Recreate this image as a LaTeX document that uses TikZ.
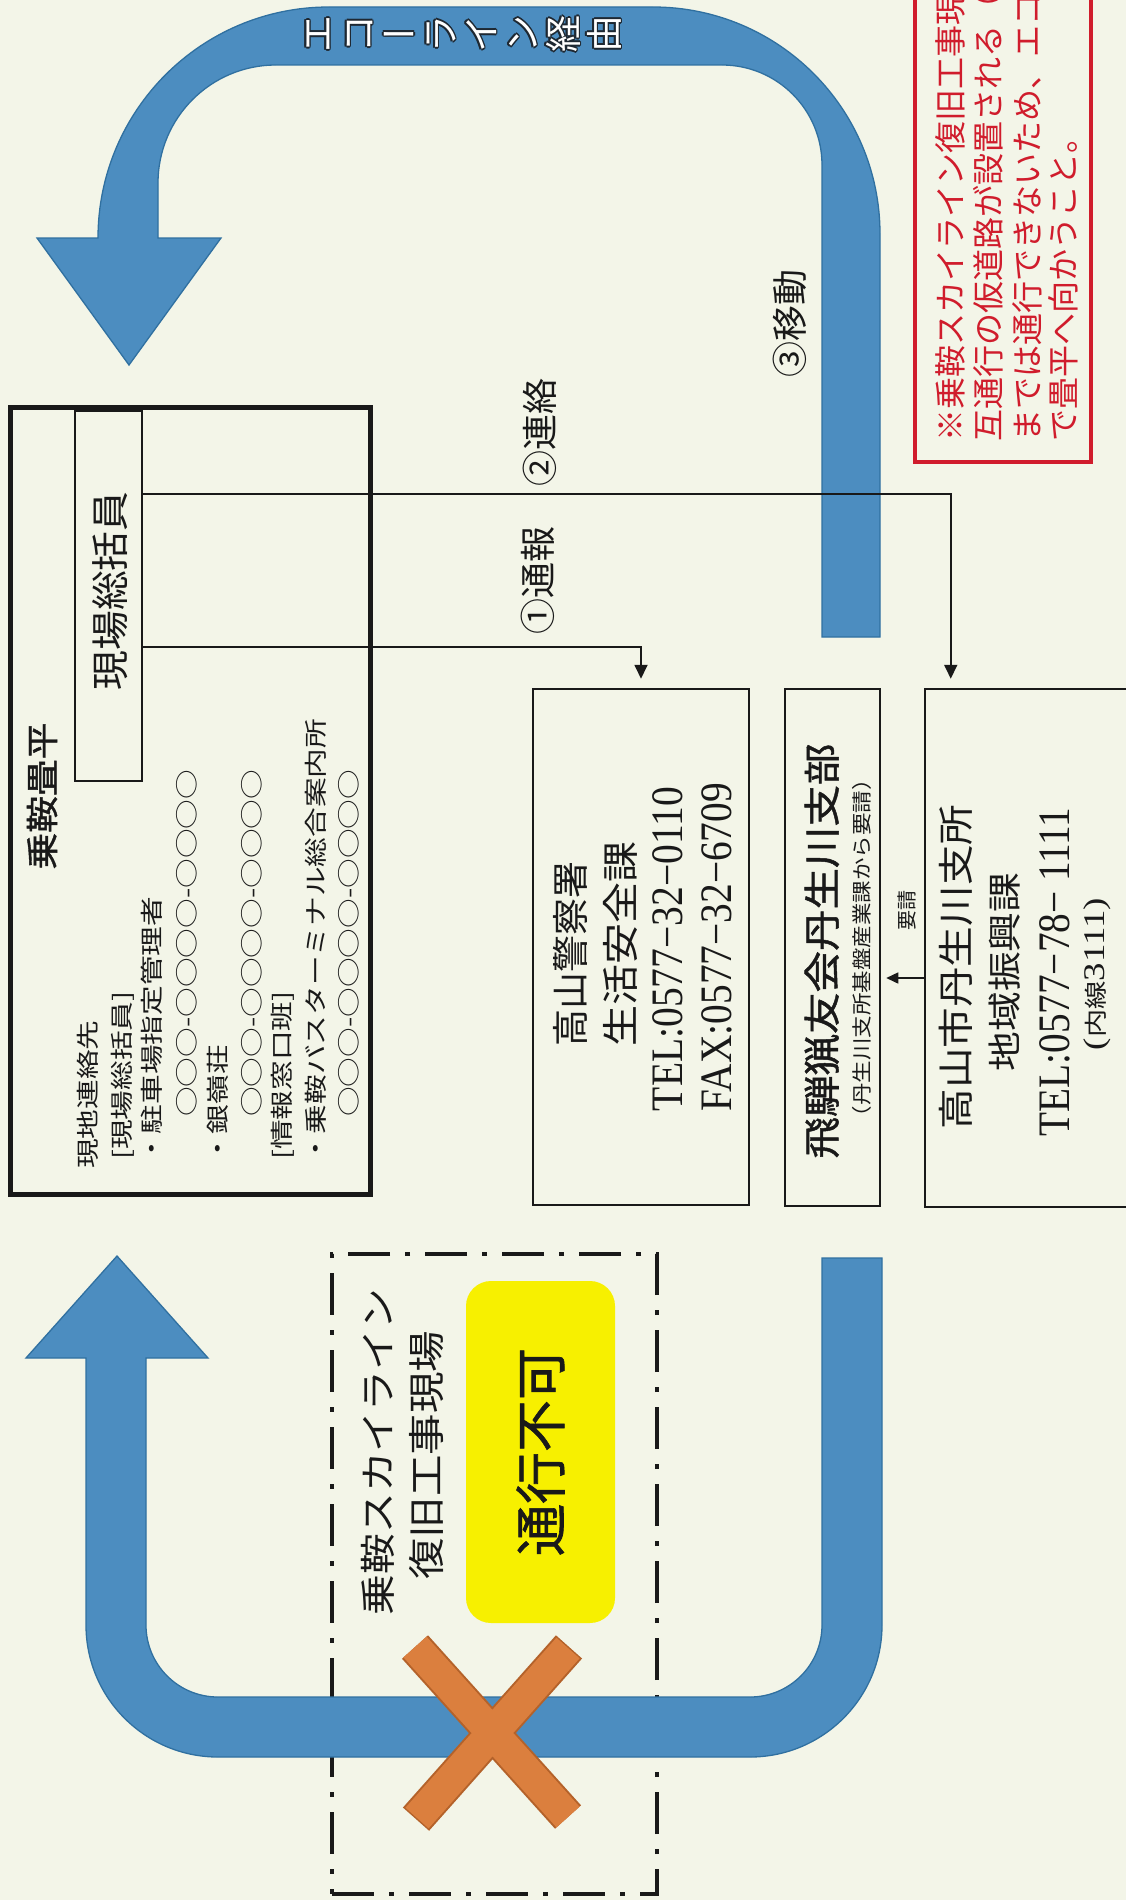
\documentclass[tikz,border=0pt]{standalone}
\usepackage{fontspec}
\usepackage{graphicx}
\usetikzlibrary{arrows.meta,calc}
\setmainfont{Liberation Serif}
\newfontfamily\jp{Noto Sans CJK JP}
\newfontfamily\jpb{Noto Sans CJK JP}[FakeBold=1.2]
\definecolor{bgc}{RGB}{243,245,232}
\definecolor{bluef}{RGB}{76,141,192}
\definecolor{bluee}{RGB}{48,112,160}
\definecolor{redc}{RGB}{208,28,44}
\definecolor{yel}{RGB}{247,240,0}
\definecolor{orf}{RGB}{219,127,62}
\definecolor{ore}{RGB}{180,98,42}
\definecolor{ink}{RGB}{25,25,25}
\definecolor{ecoout}{RGB}{30,40,50}
\newcommand\fit[2]{\resizebox{#1pt}{\height}{#2}}
\newcommand\fs[1]{\fontsize{#1}{#1}\selectfont}
\tikzset{
  vt/.style={rotate=90, inner sep=0pt, text=ink},
  ct/.style={vt, font=\jp\fs{23}, anchor=west},
  rt/.style={vt, text=redc, font=\jp\fs{32}, anchor=west},
  boxed/.style={draw=ink, line width=2.5pt, inner sep=0pt},
  conn/.style={draw=ink, line width=1.8pt, -{Triangle[width=13pt,length=14pt]}},
  conn2/.style={draw=ink, line width=1.5pt, -{Triangle[width=11pt,length=12pt]}},
  bluearrow/.style={fill=bluef, draw=bluee, line width=1.3pt},
}
\begin{document}
\begin{tikzpicture}[x=1pt,y=-1pt]
\useasboundingbox (0,0) rectangle (1126,1900);
\fill[bgc] (0,0) rectangle (1126,1900);
\clip (0,0) rectangle (1126,1900);

% construction site dash-dot frame
\node[draw=ink, line width=4.5pt, dash pattern=on 42pt off 15pt on 5pt off 15pt,
      minimum width=325pt, minimum height=640pt, inner sep=0pt] (site) at (494.5,1574) {};

% top blue arrow (Echo line)
\path[bluearrow] (880,637) -- (880,234) arc[start angle=0,end angle=-90,radius=227]
  -- (329,7) arc[start angle=-90,end angle=-180,radius=231]
  -- (37,238) -- (129,365) -- (221,238) -- (158,238) -- (158,183)
  arc[start angle=180,end angle=270,radius=118] -- (722,65)
  arc[start angle=270,end angle=360,radius=100] -- (822,637) -- cycle;

% bottom blue arrow
\path[bluearrow] (882,1258) -- (882,1625) arc[start angle=0,end angle=90,radius=132]
  -- (218,1757) arc[start angle=90,end angle=180,radius=132]
  -- (86,1358) -- (26,1358) -- (117,1256) -- (208,1358) -- (146,1358) -- (146,1625)
  arc[start angle=180,end angle=90,radius=72] -- (750,1697)
  arc[start angle=90,end angle=0,radius=72] -- (822,1258) -- cycle;

% orange cross
\draw[ore, line width=35pt, shorten <=-1.5pt, shorten >=-1.5pt] (415,1647) -- (568,1817) (417,1818) -- (568,1648);
\draw[orf, line width=31pt] (415,1647) -- (568,1817) (417,1818) -- (568,1648);

% yellow "closed" box
\node[vt, fill=yel, rounded corners=25pt, minimum width=342pt, minimum height=149pt,
      font=\jpb\fs{52}] (closed) at (540.5,1452) {通行不可};
\node[vt, font=\jp\fs{36}] (sky1) at (378,1452) {\fit{326}{乗鞍スカイライン}};
\node[vt, font=\jp\fs{37}] (sky2) at (427,1455) {\fit{249}{復旧工事現場}};

% Echo line label
\foreach \c/\r [count=\i from 0] in {エ/90,コ/90,ー/0,ラ/90,イ/90,ン/90,経/90,由/90}{
  \foreach \dx/\dy [count=\j] in {-1.6/0,1.6/0,0/-1.6,0/1.6,-1.1/-1.1,1.1/1.1,-1.1/1.1,1.1/-1.1}
    \node[rotate=\r, inner sep=0pt, text=ecoout, font=\jp\fs{37}] (eco\i o\j) at (317+41*\i+\dx,34+\dy) {\c\vphantom{経}};
  \node[rotate=\r, inner sep=0pt, text=white, font=\jp\fs{37}] (eco\i) at (317+41*\i,34) {\c\vphantom{経}};
}

% red note box
\node[draw=redc, line width=4.5pt, minimum width=176pt, minimum height=500pt, inner sep=0pt] (note) at (1003,212) {};
\node[rt] (n1) at (950,442) {※乗鞍スカイライン復旧工事現};
\node[rt] (n2) at (988,442) {互通行の仮道路が設置される（};
\node[rt] (n3) at (1027,442) {までは通行できないため、エコ};
\node[rt] (n4) at (1063,442) {で畳平へ向かうこと。};

% Norikura Tatamidaira box
\node[draw=ink, line width=5pt, minimum width=360pt, minimum height=787pt, inner sep=0pt] (tatami) at (190,800.5) {};
\node[draw=ink, line width=2pt, minimum width=67pt, minimum height=370pt, inner sep=0pt] (gen) at (108.5,596) {};
\node[vt, font=\jp\fs{38}] (gent) at (110,591) {\fit{199}{現場総括員}};
\node[vt, font=\jpb\fs{33}] (ttl) at (42,796) {\fit{147}{乗鞍畳平}};
\node[ct] (c1) at (88,1169) {\scalebox{1.29}[1]{現地連絡先}};
\node[ct] (c2) at (123,1160) {\scalebox{1.29}[1]{[現場総括員]}};
\node[ct] (c3) at (152,1164) {\scalebox{1.29}[1]{・駐車場指定管理者}};
\node[ct] (c4) at (187,1117) {\scalebox{1.29}[1]{○○○-○○○○-○○○○}};
\node[ct] (c5) at (218,1164) {\scalebox{1.29}[1]{・銀嶺荘}};
\node[ct] (c6) at (252,1117) {\scalebox{1.29}[1]{○○○-○○○○-○○○○}};
\node[ct] (c7) at (283,1160) {\scalebox{1.29}[1]{[情報窓口班]}};
\node[ct] (c8) at (316,1164) {\scalebox{1.29}[1]{・乗鞍バスターミナル総合案内所}};
\node[ct] (c9) at (349,1117) {\scalebox{1.29}[1]{○○○-○○○○-○○○○}};

% contact boxes
\node[boxed, minimum width=216pt, minimum height=516pt] (police) at (641,947) {};
\node[boxed, minimum width=95pt, minimum height=517pt] (hunt) at (832.5,947.5) {};
\node[boxed, minimum width=225pt, minimum height=518pt] (city) at (1037.5,948) {};

\node[vt, font=\jp\fs{37}] (pol1) at (570,954) {高山警察署};
\node[vt, font=\jp\fs{37}] (pol2) at (620,944) {\fit{205}{生活安全課}};
\node[vt, font=\fs{45}] (pol3) at (668,949) {\fit{324}{TEL:0577−32−0110}};
\node[vt, font=\fs{45}] (pol4) at (717,947) {\fit{328}{FAX:0577−32−6709}};

\node[vt, font=\jpb\fs{37}] (hun1) at (822,951) {\fit{415}{飛騨猟友会丹生川支部}};
\node[vt, font=\jp\fs{20}] (hun2) at (862,948) {\fit{360}{（丹生川支所基盤産業課から要請）}};

\node[vt, font=\jp\fs{36}] (cit1) at (956,967) {\fit{325}{高山市丹生川支所}};
\node[vt, font=\jp\fs{34}] (cit2) at (1005,972) {\fit{199}{地域振興課}};
\node[vt, font=\fs{45}] (cit3) at (1055,972) {\fit{329}{TEL:0577−78− 1111}};
\node[vt, font=\fs{30}] (cit4) at (1097,974) {\fit{152}{({\jp\fs{23}内線}3111)}};

% connectors
\draw[conn] ([yshift=-51pt]gen.east) -| ([yshift=9pt]police.north);
\draw[conn] ([yshift=102pt]gen.east) -| ([xshift=27pt,yshift=9pt]city.north west);
\draw[conn2] ([yshift=-30pt]city.west) -- ([xshift=5pt,yshift=-30.5pt]hunt.east);
\node[vt, font=\jp\fs{20}] (req) at (907,910) {要請};

\node[vt, font=\jp\fs{36}] (lab1) at (538,580) {①通報};
\node[vt, font=\jp\fs{36}] (lab2) at (540,432) {②連絡};
\node[vt, font=\jp\fs{36}] (lab3) at (790,323) {③移動};
\end{tikzpicture}
\end{document}
